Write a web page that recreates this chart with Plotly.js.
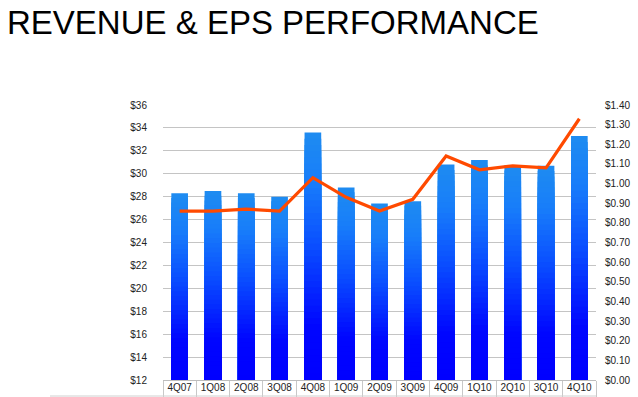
<!DOCTYPE html>
<html>
<head>
<meta charset="utf-8">
<script src="https://cdn.plot.ly/plotly-3.0.1.min.js"></script>
<style>html,body{margin:0;padding:0;background:#fff;}#chart{width:638px;height:397px;}</style>
</head>
<body>
<div id="chart"></div>
<script>
var quarters = ["4Q07","1Q08","2Q08","3Q08","4Q08","1Q09","2Q09","3Q09","4Q09","1Q10","2Q10","3Q10","4Q10"];
var revenue = [28.3, 28.5, 28.3, 28.0, 33.6, 28.8, 27.4, 27.6, 30.8, 31.2, 30.75, 30.7, 33.3];
var eps = [0.86, 0.86, 0.87, 0.86, 1.03, 0.93, 0.86, 0.92, 1.14, 1.07, 1.09, 1.08, 1.33];
var revenueTicks = [12,14,16,18,20,22,24,26,28,30,32,34,36];
var epsTicks = [0,0.1,0.2,0.3,0.4,0.5,0.6,0.7,0.8,0.9,1.0,1.1,1.2,1.3,1.4];

var barBase = 12;
// gradient stops (fraction of bar height from bottom -> rgb)
var gradStops = [[0,[0,0,255]],[0.22,[0,6,255]],[0.55,[10,80,255]],[0.8,[24,125,250]],[1,[30,140,240]]];
function gradColor(t){
  for (var i=1;i<gradStops.length;i++){
    if (t<=gradStops[i][0]){
      var a=gradStops[i-1], b=gradStops[i];
      var f=(t-a[0])/(b[0]-a[0]);
      var c=a[1].map(function(v,j){return Math.round(v+(b[1][j]-v)*f);});
      return 'rgb('+c.join(',')+')';
    }
  }
  return 'rgb('+gradStops[gradStops.length-1][1].join(',')+')';
}

var traces = [];
var N = 40;
for (var k=0;k<N;k++){
  var frac = (N-k)/N;
  traces.push({
    type:'bar', x:quarters,
    y: revenue.map(function(v){return (v-barBase)*frac;}),
    base: barBase,
    marker:{color:gradColor((N-k-0.5)/N), line:{width:0}},
    hoverinfo:'skip', showlegend:false, yaxis:'y'
  });
}
traces.push({
  type:'scatter', mode:'lines', x:quarters, y:eps, yaxis:'y2',
  line:{color:'#ff4a00', width:3.2}, showlegend:false
});

var layout = {
  width:638, height:397,
  margin:{l:163, r:42, t:105, b:17},
  paper_bgcolor:'#ffffff', plot_bgcolor:'#ffffff',
  font:{family:'"Liberation Sans", Arial, sans-serif', size:10, color:'#222'},
  title:{text:'REVENUE &amp; EPS PERFORMANCE', x:7/638, xanchor:'left', xref:'container', y:1-22/397, yanchor:'middle', yref:'container',
    font:{family:'"Liberation Sans", Arial, sans-serif', size:33, color:'#000'}},
  barmode:'overlay', bargap:0.5,
  xaxis:{type:'category', showgrid:false, showline:true, linecolor:'#bdbdbd', linewidth:1,
    ticks:'outside', tickson:'boundaries', ticklen:17, tickcolor:'#c8c8c8', tickwidth:1,
    tickangle:0, ticklabelstandoff:-2, fixedrange:true, tickfont:{size:10, color:'#222'}},
  yaxis:{range:[12,36], tickvals:revenueTicks, ticktext:revenueTicks.map(function(v){return '$'+v;}),
    showgrid:true, gridcolor:'#c4c4c4', gridwidth:1, zeroline:false, showline:false,
    ticks:'', ticklabelstandoff:15, tickfont:{size:10, color:'#222'}},
  yaxis2:{range:[0,1.4], overlaying:'y', side:'right', tickvals:epsTicks,
    ticktext:epsTicks.map(function(v){return '$'+v.toFixed(2);}),
    showgrid:false, zeroline:false, showline:false, ticks:'', ticklabelstandoff:8,
    tickfont:{size:10, color:'#222'}},
  shapes:[{type:'line', xref:'paper', yref:'paper', x0:-113/433, x1:1, y0:-16/275, y1:-16/275,
    line:{color:'#d0d0d0', width:1}}]
};
Plotly.newPlot('chart', traces, layout, {displayModeBar:false, staticPlot:true});
</script>
</body>
</html>
